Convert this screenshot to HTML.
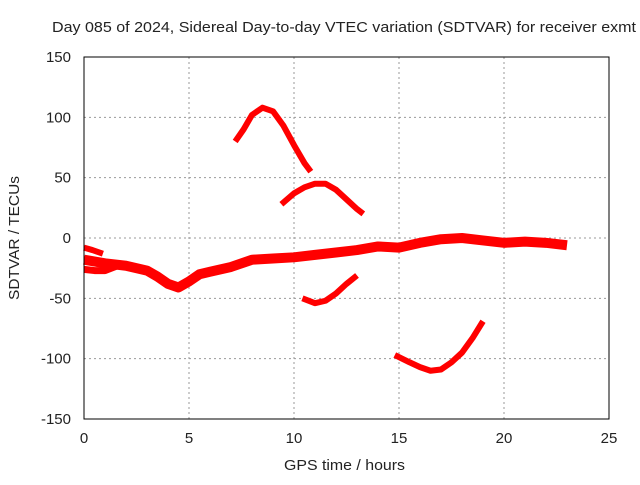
<!DOCTYPE html>
<html><head><meta charset="utf-8"><style>
body{margin:0;background:#fff}
svg text{font-family:"Liberation Sans",sans-serif;font-size:14px;fill:#222}
</style></head><body>
<svg width="640" height="480">
<g id="grid"></g>
<g id="series"></g>
<rect x="84" y="57" width="525" height="362" fill="none" stroke="#000"/>
<g id="ticks"></g>
<text x="52" y="32" textLength="584" lengthAdjust="spacingAndGlyphs" style="font-size:15px">Day 085 of 2024, Sidereal Day-to-day VTEC variation (SDTVAR) for receiver exmt</text>
<text x="284" y="470" textLength="121" lengthAdjust="spacingAndGlyphs" style="font-size:15px">GPS time / hours</text>
<text transform="translate(19,238) rotate(-90)" x="-62" textLength="124" lengthAdjust="spacingAndGlyphs" style="font-size:15px">SDTVAR / TECUs</text>
</svg>
<script>
const xTicks=[0,5,10,15,20,25];
const yTicks=[150,100,50,0,-50,-100,-150];
const mainBand=[[0,-18],[1,-21],[2,-23],[3,-27],[3.5,-32],[4,-38],[4.5,-41],[5,-36],[5.5,-30],[6,-28],[7,-24],[8,-18],[9,-17],[10,-16],[11,-14],[12,-12],[13,-10],[14,-7],[15,-8],[16,-4],[17,-1],[18,0],[19,-2],[20,-4],[21,-3],[22,-4],[23,-6]];
const strandUpper=[[0,-8],[0.4,-10],[0.9,-13]];
const strandLower=[[0,-26],[0.5,-27],[1,-27],[1.6,-23]];
const arcHigh=[[7.2,80],[7.6,90],[8,102],[8.5,108],[9,105],[9.5,93],[10,77],[10.5,62],[10.8,55]];
const arcMid=[[9.4,28],[10,37],[10.5,42],[11,45],[11.5,45],[12,40],[12.5,32],[13,24],[13.3,20]];
const arcLowMid=[[10.4,-50],[11,-54],[11.5,-52],[12,-46],[12.5,-38],[13,-31]];
const arcLow=[[14.8,-97],[15.5,-103],[16,-107],[16.5,-110],[17,-109],[17.5,-103],[18,-95],[18.5,-83],[19,-69]];
const NS='http://www.w3.org/2000/svg';
const X=v=>84+v*21, Y=v=>238-v*362/300;
function mk(t,a,p){const e=document.createElementNS(NS,t);for(const k in a)e.setAttribute(k,a[k]);p.appendChild(e);return e;}
const grid=document.getElementById('grid'),ticks=document.getElementById('ticks'),ser=document.getElementById('series');
xTicks.forEach(v=>{
 if(v>0&&v<25){const l=mk('line',{x1:X(v),x2:X(v),y1:57,y2:419,stroke:'#999','stroke-dasharray':'2,3'},grid);
 
 }
 const t=mk('text',{x:X(v),y:443,'text-anchor':'middle',style:'font-size:15px'},ticks);t.textContent=v;
 
 
});
yTicks.forEach(v=>{
 if(v<150&&v>-150){const l=mk('line',{x1:84,x2:609,y1:Y(v),y2:Y(v),stroke:'#999','stroke-dasharray':'2,3'},grid);
 
 }
 const t=mk('text',{x:71,y:Y(v)+5,'text-anchor':'end',style:'font-size:15px'},ticks);t.textContent=v;
 
 
});
[[mainBand,10],[strandUpper,6],[strandLower,7],[arcHigh,6],[arcMid,6],[arcLowMid,6],[arcLow,6]].forEach(([d,w])=>{
 const p=mk('polyline',{points:d.map(q=>X(q[0])+','+Y(q[1])).join(' '),fill:'none',stroke:'#f00','stroke-width':w,'stroke-linejoin':'round'},ser);
 
 
});
</script>
</body></html>
